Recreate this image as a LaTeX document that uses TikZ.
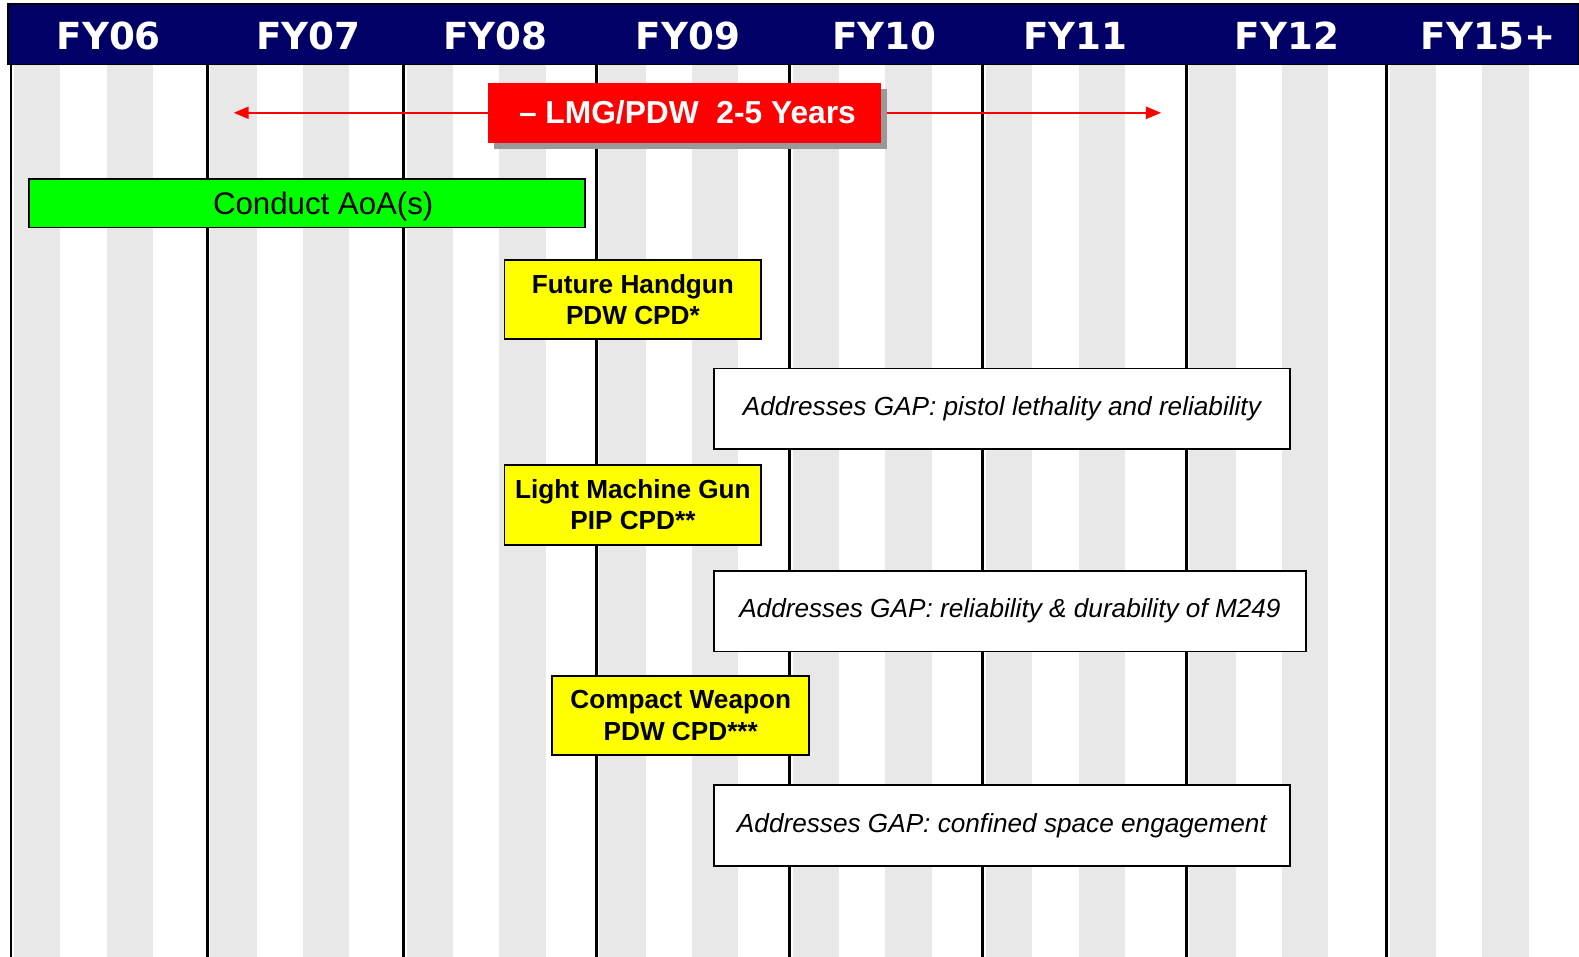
\documentclass[tikz,border=0pt]{standalone}
\usepackage{fontspec}
\setmainfont{Liberation Sans}
\newfontfamily\hdrfont{DejaVu Sans}
\usetikzlibrary{arrows.meta,shadows,positioning}

\definecolor{hdrblue}{RGB}{0,0,102}
\definecolor{stripegray}{RGB}{232,232,232}
\definecolor{barred}{RGB}{255,0,0}
\definecolor{bargreen}{RGB}{0,255,0}
\definecolor{baryellow}{RGB}{255,255,0}

\tikzset{
    yearlabel/.style={anchor=base,text=white,inner sep=0pt,
        font=\hdrfont\bfseries\fontsize{37}{40}\selectfont},
    yearline/.style={line width=2.8pt,black},
    cpdbox/.style={draw=black,line width=1.8pt,fill=baryellow,align=center,
        minimum width=255pt,minimum height=79pt,inner sep=0pt,
        font=\bfseries\fontsize{26}{31}\selectfont},
    gapbox/.style={draw=black,line width=1.8pt,fill=white,anchor=north west,
        minimum height=80pt,inner sep=0pt,
        font=\itshape\fontsize{26}{31}\selectfont},
}

\begin{document}
\begin{tikzpicture}[x=1pt,y=-1pt]

        \useasboundingbox (0,0) rectangle (1568,950);

        % stripes, two grey bands in each year
        \foreach \lx in {11,206,401,592,784,976,1178,1377}
            { \fill[stripegray] (\lx+3,64) rectangle ++(46,886);
              \fill[stripegray] (\lx+95,64) rectangle ++(46,886); }

        \foreach \lx in {11,206,401,592,784,976,1178,1377}
            { \draw[yearline] (\lx,64) -- (\lx,950); }

        % header
        \fill[hdrblue,draw=black,line width=1.5pt] (8,4) rectangle (1568,64);
        \foreach \xc/\yr [count=\i] in {108/FY06,306/FY07,492/FY08,683/FY09,
                878/FY10,1068/FY11,1278/FY12,1478/FY15+}
            { \node[yearlabel] (yr\i) at (\xc,49) {\yr}; }

        % span arrow
        \coordinate (arrL) at (232,112);
        \coordinate (arrR) at (1153,112);
        \draw[barred,line width=2pt,{Triangle[length=15pt,width=12pt]}-{Triangle[length=15pt,width=12pt]}]
            (arrL) -- (arrR);
        \node[fill=barred,minimum width=390pt,minimum height=60pt,inner sep=0pt,
            text=white,font=\bfseries\fontsize{31.5}{34}\selectfont,
            drop shadow={shadow xshift=6pt,shadow yshift=-6pt,fill=gray!80,opacity=1}]
            (span) at (680,112) {\,\textendash{} LMG/PDW \ 2-5 Years};

        \node[draw=black,line width=1.8pt,fill=bargreen,minimum width=552pt,
            minimum height=48pt,inner sep=0pt,text depth=0pt,
            font=\fontsize{31}{34}\selectfont]
            (aoa) at (305,202) {\hspace*{32pt}Conduct AoA(s)};

        \node[cpdbox] (handgun) at (628.5,297.5) {Future Handgun\\PDW CPD*};
        \node[gapbox,minimum width=572pt] (gapA) at (708,365)
            {Addresses GAP: pistol lethality and reliability};

        \node[cpdbox] (lmg) at (628.5,501.5) {Light Machine Gun\\PIP CPD**};
        \node[gapbox,minimum width=588pt] (gapB) at (708,566)
            {Addresses GAP: reliability \& durability of M249};

        \node[cpdbox] (compact) at (676,710.5) {Compact Weapon\\PDW CPD***};
        \node[gapbox,minimum width=572pt] (gapC) at (708,779)
            {Addresses GAP: confined space engagement};

    \end{tikzpicture}
\end{document}
